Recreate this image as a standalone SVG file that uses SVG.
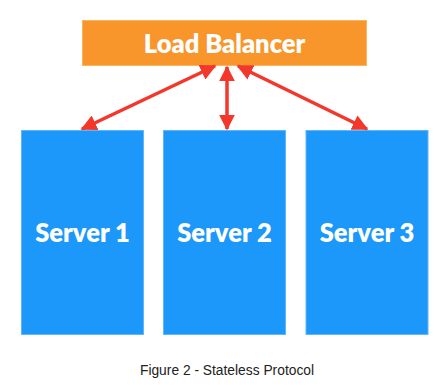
<svg xmlns="http://www.w3.org/2000/svg" width="448" height="385" viewBox="0 0 448 385">
<defs>
<style>
.lb{fill:#F8962B;stroke:#FBB35F;stroke-width:1}
.srv{fill:#1C98FA;stroke:#62B6F7;stroke-width:1}
.lbl{font-family:Lato,"Open Sans",sans-serif;font-weight:800;font-size:25.5px;fill:#FFFFFF;text-anchor:middle}
.cap{font-family:"Liberation Sans",Arial,sans-serif;font-size:13.8px;fill:#222222;text-anchor:middle}
.conn{stroke:#F3372B;stroke-width:3.5;fill:none;marker-start:url(#ah);marker-end:url(#ah)}
</style>
<marker id="ah" viewBox="0 0 10 10" refX="9" refY="5" markerWidth="4.6" markerHeight="4.6" orient="auto-start-reverse" markerUnits="strokeWidth">
<path d="M0,0 L10,5 L0,10 Z" fill="#F3372B"/>
</marker>
</defs>
<g id="load-balancer">
<rect class="lb" x="82.5" y="20.5" width="284" height="45"/>
<text class="lbl" x="224.5" y="53">Load Balancer</text>
</g>
<g id="server-1">
<rect class="srv" x="21.5" y="130.5" width="122" height="204"/>
<text class="lbl" x="82.5" y="242">Server 1</text>
</g>
<g id="server-2">
<rect class="srv" x="163.5" y="130.5" width="122" height="204"/>
<text class="lbl" x="224.5" y="242">Server 2</text>
</g>
<g id="server-3">
<rect class="srv" x="306" y="130.5" width="122" height="204"/>
<text class="lbl" x="367" y="242">Server 3</text>
</g>
<g id="connectors">
<line class="conn" x1="215" y1="66" x2="82" y2="129"/>
<line class="conn" x1="227" y1="67" x2="227" y2="129"/>
<line class="conn" x1="238" y1="66" x2="367" y2="129"/>
</g>
<text class="cap" x="227" y="375">Figure 2 - Stateless Protocol</text>
</svg>
